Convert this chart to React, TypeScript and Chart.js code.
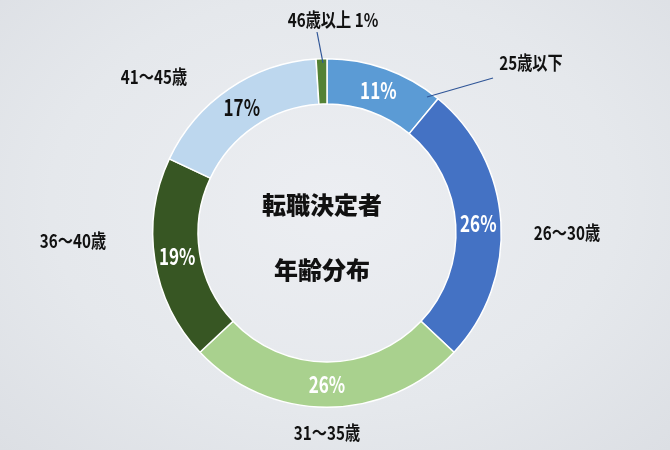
import { useEffect, useRef } from 'react';
import Chart from 'chart.js/auto';

// data
const categories = ['25歳以下', '26～30歳', '31～35歳', '36～40歳', '41～45歳', '46歳以上'];
const shares = [11, 26, 26, 19, 17, 1];
const centerLines = ['転職決定者', '年齢分布'];

// styles
const sliceColors = ['#5b9bd5', '#4472c4', '#a9d18e', '#375623', '#bdd7ee', '#548235'];
const pctColors = ['#ffffff', '#ffffff', '#ffffff', '#ffffff', '#111111', '#ffffff'];
// outside label positions (relative to the doughnut centre)
const outerLabelPos = [
  [204, -170],
  [240, 0],
  [0, 200],
  [-254, 8],
  [-173, -156],
  [6, -213],
];
// leader lines: label side dx,dy -> arc dx,dy
const leaders = [
  [166, -155, 100, -136],
  [-10, -201, -4, -170],
];

const FONT = '"Noto Sans CJK JP", "Noto Sans", sans-serif';

function condensedText(ctx: CanvasRenderingContext2D, text: string, x: number, y: number, size: number, color: string, sx = 0.78) {
  ctx.save();
  ctx.translate(x, y);
  ctx.scale(sx, 1);
  ctx.font = `bold ${size}px ${FONT}`;
  ctx.fillStyle = color;
  ctx.textAlign = 'center';
  ctx.textBaseline = 'middle';
  ctx.fillText(text, 0, 0);
  ctx.restore();
}

const labelPlugin = {
  id: 'labelPlugin',
  afterDatasetsDraw(chart: any) {
    const ctx = chart.ctx as CanvasRenderingContext2D;
    const meta = chart.getDatasetMeta(0);
    const cx = meta.data[0].x;
    const cy = meta.data[0].y;

    // leader lines
    ctx.save();
    ctx.strokeStyle = '#2f5597';
    ctx.lineWidth = 1.2;
    leaders.forEach((l) => {
      ctx.beginPath();
      ctx.moveTo(cx + l[0], cy + l[1]);
      ctx.lineTo(cx + l[2], cy + l[3]);
      ctx.stroke();
    });
    ctx.restore();

    meta.data.forEach((arc: any, i: number) => {
      const pct = shares[i] + '%';
      const [dx, dy] = outerLabelPos[i];
      if (i === shares.length - 1) {
        condensedText(ctx, `${categories[i]} ${pct}`, cx + dx, cy + dy, 19, '#111111', 0.8);
      } else {
        const p = arc.getCenterPoint();
        condensedText(ctx, pct, p.x, p.y, 23, pctColors[i], 0.74);
        condensedText(ctx, categories[i], cx + dx, cy + dy, 19, '#111111', 0.8);
      }
    });

    // centre title
    ctx.save();
    ctx.font = `900 24px ${FONT}`;
    ctx.fillStyle = '#111111';
    ctx.textAlign = 'center';
    ctx.textBaseline = 'middle';
    ctx.fillText(centerLines[0], cx - 5, cy - 28);
    ctx.fillText(centerLines[1], cx - 5, cy + 37);
    ctx.restore();
  },
};

export default function App() {
  const canvasRef = useRef<HTMLCanvasElement | null>(null);
  const chartRef = useRef<Chart | null>(null);

  useEffect(() => {
    if (!canvasRef.current) return;
    if (chartRef.current) chartRef.current.destroy();

    chartRef.current = new Chart(canvasRef.current, {
      type: 'doughnut',
      data: {
        labels: categories,
        datasets: [{
          data: shares,
          backgroundColor: sliceColors,
          borderColor: '#ffffff',
          borderWidth: 1.5,
        }],
      },
      options: {
        animation: false,
        responsive: false,
        cutout: '74%',
        layout: { padding: { top: 58, bottom: 42, left: 152, right: 168 } },
        plugins: { legend: { display: false }, tooltip: { enabled: false } },
      },
      plugins: [labelPlugin],
    });

    return () => {
      if (chartRef.current) {
        chartRef.current.destroy();
        chartRef.current = null;
      }
    };
  }, []);

  return (
    <div
      style={{
        position: 'fixed',
        left: 0,
        top: 0,
        width: 670,
        height: 450,
        background: 'radial-gradient(ellipse at 50% 45%, #eceef2 0%, #e5e8ec 60%, #dcdfe4 100%)',
      }}
    >
      <canvas ref={canvasRef} width={670} height={450} />
    </div>
  );
}
